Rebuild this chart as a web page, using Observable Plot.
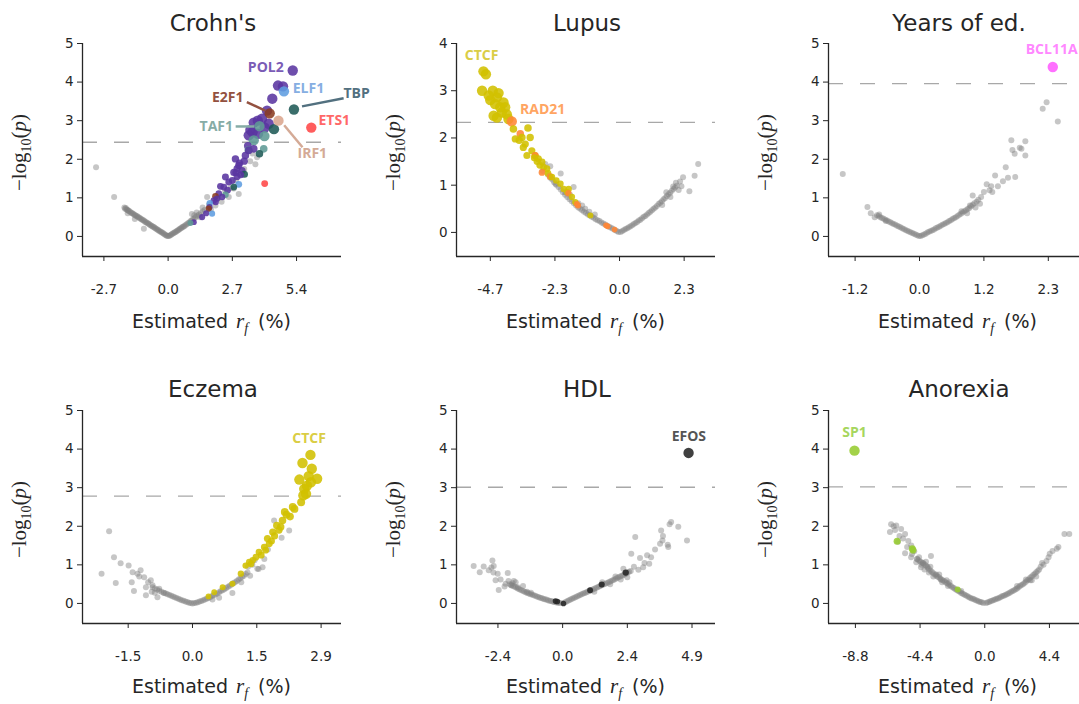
<!DOCTYPE html>
<html>
<head>
<meta charset="utf-8">
<script src="https://cdn.jsdelivr.net/npm/d3@7"></script>
<script src="https://cdn.jsdelivr.net/npm/@observablehq/plot@0.6"></script>
<style>
html,body{margin:0;padding:0;background:#fff;}
#root{position:relative;width:1079px;height:704px;overflow:hidden;background:#fff;}
</style>
</head>
<body>
<div id="root"></div>
<script>
// ---------------- DATA ----------------
const titles = ["Crohn's", "Lupus", "Years of ed.", "Eczema", "HDL", "Anorexia"];
const thresholds = [2.44, 2.33, 3.96, 2.78, 3.01, 3.02];

const crohnsTicks = [-2.7, 0, 2.7, 5.4];
const crohnsTickLabels = ["-2.7", "0.0", "2.7", "5.4"];
const lupusTicks = [-4.7, -2.35, 0, 2.35];
const lupusTickLabels = ["-4.7", "-2.3", "0.0", "2.3"];
const yearsTicks = [-1.15, 0, 1.15, 2.3];
const yearsTickLabels = ["-1.2", "0.0", "1.2", "2.3"];
const eczemaTicks = [-1.45, 0, 1.45, 2.9];
const eczemaTickLabels = ["-1.5", "0.0", "1.5", "2.9"];
const hdlTicks = [-2.45, 0, 2.45, 4.9];
const hdlTickLabels = ["-2.4", "0.0", "2.4", "4.9"];
const anorexiaTicks = [-8.8, -4.4, 0, 4.4];
const anorexiaTickLabels = ["-8.8", "-4.4", "0.0", "4.4"];

// background (non-highlighted) points: [r_f, -log10 p]
const crohnsGray = [
 [-3.03,1.79],[-2.27,1.02],[-1.02,0.20],[-1.70,0.60],[-1.40,0.45],
 [-1.84,0.75],[-1.81,0.72],[-1.78,0.74],[-1.75,0.70],[-1.72,0.69],[-1.69,0.68],[-1.66,0.66],[-1.62,0.65],[-1.58,0.63],[-1.54,0.61],[-1.50,0.60],[-1.46,0.58],[-1.42,0.56],[-1.38,0.55],[-1.34,0.53],[-1.30,0.52],[-1.26,0.50],[-1.22,0.49],[-1.18,0.47],[-1.14,0.45],[-1.10,0.44],[-1.06,0.42],[-1.02,0.41],[-0.98,0.39],[-0.94,0.37],[-0.90,0.36],[-0.86,0.34],[-0.82,0.33],[-0.78,0.31],[-0.74,0.29],[-0.70,0.28],[-0.66,0.26],[-0.62,0.25],[-0.58,0.23],[-0.54,0.21],[-0.50,0.20],[-0.46,0.18],[-0.42,0.17],[-0.38,0.15],[-0.34,0.13],[-0.30,0.12],[-0.26,0.10],[-0.22,0.09],[-0.18,0.07],[-0.14,0.05],[-0.10,0.04],[-0.06,0.02],[-0.02,0.01],
 [0.02,0.01],[0.06,0.02],[0.10,0.04],[0.14,0.05],[0.18,0.07],[0.22,0.08],[0.26,0.10],[0.30,0.11],[0.34,0.13],[0.38,0.15],[0.42,0.16],[0.46,0.18],[0.50,0.20],[0.54,0.21],[0.58,0.23],[0.62,0.25],[0.66,0.26],[0.70,0.28],[0.75,0.30],[0.80,0.32],[0.85,0.35],[0.90,0.37],[0.95,0.40],[1.00,0.42],[1.06,0.45],[1.12,0.48],[1.18,0.51],[1.24,0.54],[1.30,0.57],[1.38,0.61],[1.46,0.65],[1.54,0.69],
 [1.00,0.58],[1.10,0.55],[1.20,0.62],[1.35,0.50],[1.45,0.75],[1.64,1.02],[1.72,0.82],[1.80,0.70],[1.99,0.80],[2.10,0.98],[2.25,0.90],[2.40,1.18],[2.55,1.02],[2.62,1.25],[2.76,1.24],[2.85,1.45],[2.97,1.10],[3.05,1.62],[3.20,1.75],[3.45,1.95],[3.67,1.87],[3.74,2.05],[3.55,2.15]
];
const lupusGray = [
 [-2.60,1.22],[-2.52,1.16],[-2.45,1.12],[-2.38,1.06],[-2.30,1.01],[-2.22,0.96],[-2.14,0.91],[-2.06,0.85],[-1.98,0.80],[-1.90,0.75],[-1.82,0.70],[-1.74,0.66],[-1.66,0.62],[-1.58,0.57],[-1.50,0.53],[-1.43,0.50],[-1.36,0.47],[-1.29,0.44],[-1.22,0.41],[-1.15,0.38],[-1.08,0.36],[-1.01,0.33],[-0.94,0.31],[-0.87,0.28],[-0.80,0.26],[-0.73,0.24],[-0.66,0.21],[-0.59,0.19],[-0.52,0.17],[-0.45,0.14],[-0.38,0.12],[-0.31,0.10],[-0.24,0.08],[-0.17,0.05],[-0.10,0.03],[-0.04,0.01],
 [-2.52,1.40],[-2.14,1.25],[-2.33,1.03],[-1.67,0.96],[-1.36,0.57],[-1.25,0.50],[-1.97,0.85],[-2.80,1.30],[-2.70,1.45],[-1.80,0.80],[-1.50,0.62],[-1.10,0.44],[-0.90,0.38],
 [0.04,0.01],[0.10,0.03],[0.16,0.05],[0.22,0.07],[0.28,0.09],[0.34,0.11],[0.40,0.13],[0.46,0.15],[0.52,0.18],[0.58,0.20],[0.64,0.22],[0.70,0.25],[0.76,0.27],[0.82,0.30],[0.88,0.33],[0.94,0.35],[1.00,0.38],[1.06,0.41],[1.12,0.44],[1.18,0.47],[1.24,0.50],[1.30,0.53],[1.36,0.56],[1.42,0.60],[1.48,0.63],[1.54,0.66],[1.60,0.70],[1.66,0.73],[1.72,0.77],[1.78,0.81],[1.84,0.84],[1.90,0.88],[1.96,0.92],[2.02,0.95],[2.08,0.99],
 [2.31,1.17],[2.73,1.20],[2.86,1.45],[2.54,0.87],[2.20,1.08],[2.15,0.90],[2.05,1.05],[1.85,0.75],[1.70,0.85],[1.55,0.58],[2.25,0.98],[1.95,0.97]
];
const yearsGray = [
 [-1.37,1.62],[-0.93,0.76],[-0.87,0.60],[-0.72,0.57],[-0.80,0.50],[-0.60,0.40],
 [-0.76,0.55],[-0.73,0.53],[-0.70,0.50],[-0.67,0.48],[-0.64,0.46],[-0.61,0.43],[-0.58,0.41],[-0.55,0.39],[-0.52,0.37],[-0.49,0.34],[-0.46,0.32],[-0.43,0.30],[-0.40,0.28],[-0.37,0.26],[-0.34,0.24],[-0.31,0.21],[-0.28,0.19],[-0.25,0.17],[-0.22,0.15],[-0.19,0.13],[-0.16,0.11],[-0.13,0.09],[-0.10,0.07],[-0.07,0.05],[-0.04,0.03],[-0.01,0.01],
 [0.02,0.01],[0.05,0.03],[0.08,0.05],[0.11,0.07],[0.14,0.10],[0.17,0.12],[0.20,0.14],[0.23,0.16],[0.26,0.18],[0.29,0.21],[0.32,0.23],[0.35,0.25],[0.38,0.28],[0.41,0.30],[0.44,0.32],[0.47,0.35],[0.50,0.37],[0.53,0.40],[0.56,0.42],[0.59,0.45],[0.62,0.48],[0.65,0.50],[0.68,0.53],[0.71,0.56],[0.74,0.59],[0.77,0.62],[0.80,0.65],[0.83,0.68],[0.86,0.71],[0.89,0.74],[0.92,0.78],[0.95,0.82],[0.98,0.86],
 [0.95,1.06],[1.00,0.75],[1.05,0.95],[1.10,1.02],[1.15,1.15],[1.20,1.35],[1.28,1.30],[1.35,1.58],[1.40,1.30],[1.49,1.43],[1.54,1.79],[1.58,1.52],[1.71,1.54],[1.64,2.49],[1.66,2.24],[1.70,2.14],[1.79,2.30],[1.82,2.27],[1.89,2.47],[1.89,2.10],[2.20,3.31],[2.27,3.48],[2.47,2.98],[0.85,0.60],[0.75,0.65],[1.08,0.85],[1.25,1.20],[1.30,1.15],[0.90,0.80],[1.02,0.90]
];
const eczemaGray = [
 [-1.88,1.87],[-1.77,1.20],[-2.05,0.77],[-1.73,0.53],[-1.62,1.04],[-1.44,0.98],[-1.17,0.86],[-1.35,0.81],[-1.37,0.55],[-1.32,0.32],[-1.05,0.21],[-1.24,0.77],[-1.09,0.68],[-0.94,0.60],[-0.90,0.47],[-0.75,0.38],[-0.64,0.27],[-0.79,0.16],[-1.05,0.42],[-1.20,0.70],[-1.00,0.55],[-0.85,0.28],[-0.92,0.30],
 [-0.90,0.42],[-0.85,0.39],[-0.80,0.36],[-0.75,0.33],[-0.70,0.30],[-0.65,0.28],[-0.60,0.26],[-0.56,0.24],[-0.52,0.22],[-0.48,0.20],[-0.44,0.18],[-0.40,0.16],[-0.36,0.14],[-0.32,0.12],[-0.28,0.10],[-0.24,0.08],[-0.20,0.07],[-0.16,0.05],[-0.12,0.04],[-0.08,0.02],[-0.04,0.01],[0.00,0.00],
 [0.04,0.01],[0.08,0.02],[0.12,0.03],[0.16,0.05],[0.20,0.06],[0.24,0.08],[0.28,0.10],[0.32,0.12],[0.36,0.14],[0.40,0.16],[0.44,0.19],[0.48,0.21],[0.52,0.24],[0.56,0.26],[0.60,0.29],[0.64,0.32],[0.68,0.34],[0.72,0.37],[0.76,0.40],[0.80,0.43],[0.84,0.46],[0.88,0.49],[0.92,0.52],[0.96,0.55],[1.00,0.58],[1.04,0.62],[1.08,0.65],[1.12,0.69],[1.16,0.72],[1.20,0.76],[1.24,0.80],
 [0.90,0.27],[0.60,0.15],[0.45,0.10],[1.84,2.15],[2.18,1.89],[2.01,1.70],[1.58,0.94],[1.46,0.90],[1.49,0.89],[1.30,0.72],[1.10,0.55],[1.35,1.00],[1.40,1.12],[1.62,1.15],[1.70,1.40],[1.25,0.95]
];
const hdlGray = [
 [-3.37,0.97],[-3.14,0.81],[-2.99,0.96],[-2.66,1.11],[-2.61,0.97],[-2.46,0.77],[-2.54,0.60],[-2.42,0.35],[-2.08,0.79],[-2.16,0.51],[-1.78,0.55],[-2.80,0.86],[-2.70,0.93],[-2.62,0.80],[-2.35,0.62],[-2.20,0.44],[-1.95,0.47],[-1.90,0.52],[-1.85,0.58],[-1.70,0.42],[-1.50,0.45],[-1.35,0.30],[-1.20,0.28],[-2.05,0.58],
 [-2.00,0.50],[-1.94,0.47],[-1.88,0.45],[-1.82,0.43],[-1.76,0.41],[-1.70,0.39],[-1.64,0.37],[-1.58,0.35],[-1.52,0.33],[-1.46,0.31],[-1.40,0.29],[-1.34,0.27],[-1.28,0.26],[-1.22,0.24],[-1.16,0.23],[-1.10,0.21],[-1.04,0.20],[-0.98,0.18],[-0.92,0.17],[-0.86,0.15],[-0.80,0.14],[-0.74,0.12],[-0.68,0.11],[-0.62,0.10],[-0.56,0.08],[-0.50,0.07],[-0.44,0.06],[-0.38,0.05],[-0.32,0.04],[-0.26,0.03],[-0.20,0.02],[-0.14,0.02],[-0.08,0.01],
 [0.06,0.02],[0.12,0.04],[0.18,0.06],[0.24,0.08],[0.30,0.10],[0.36,0.12],[0.42,0.14],[0.48,0.16],[0.54,0.18],[0.60,0.20],[0.66,0.22],[0.72,0.24],[0.78,0.26],[0.84,0.27],[0.90,0.29],[0.96,0.31],[1.02,0.33],[1.08,0.34],[1.14,0.36],[1.20,0.38],[1.26,0.40],[1.32,0.42],[1.38,0.44],[1.44,0.46],[1.50,0.48],[1.56,0.50],[1.62,0.51],[1.68,0.53],[1.74,0.55],[1.80,0.57],[1.86,0.59],[1.92,0.61],[1.98,0.63],[2.04,0.65],[2.10,0.67],[2.16,0.69],[2.22,0.71],[2.28,0.73],[2.34,0.75],[2.40,0.77],[2.46,0.80],[2.52,0.82],[2.58,0.84],
 [2.75,1.72],[2.60,1.29],[2.93,1.18],[3.35,1.20],[3.28,1.03],[3.05,0.94],[2.87,0.87],[3.73,1.89],[3.78,1.63],[3.69,1.55],[4.00,1.46],[3.98,1.52],[4.11,2.11],[4.38,1.99],[4.71,1.63],[4.05,2.05],[3.80,1.75],[2.30,0.90],[2.00,0.70],[1.50,0.55],[2.45,0.68],[2.70,0.95],[3.20,1.25],[3.50,1.40],[3.10,1.05],[1.20,0.30],[1.80,0.50],[2.20,0.62]
];
const anorexiaGray = [
 [-6.37,2.05],[-6.20,2.00],[-6.02,2.02],[-6.45,1.85],[-5.69,1.93],[-5.42,1.80],[-5.56,1.68],[-5.28,1.46],[-5.42,1.30],[-5.01,1.20],[-4.47,1.20],[-3.66,1.23],[-4.66,1.07],[-4.34,0.94],[-5.80,1.75],[-5.90,1.60],[-5.00,1.50],[-4.80,1.35],[-4.20,1.05],[-3.90,0.95],[-3.80,0.80],[-3.30,0.75],[-3.00,0.62],[-2.60,0.60],[-2.50,0.45],[-6.10,1.90],[-5.20,1.62],[-4.95,1.28],[-4.60,1.15],[-4.10,0.88],
 [-4.60,1.15],[-4.50,1.12],[-4.40,1.09],[-4.30,1.07],[-4.20,1.04],[-4.10,1.01],[-4.00,0.98],[-3.90,0.93],[-3.80,0.89],[-3.70,0.85],[-3.60,0.82],[-3.50,0.78],[-3.40,0.75],[-3.30,0.72],[-3.20,0.69],[-3.10,0.67],[-3.00,0.64],[-2.90,0.61],[-2.80,0.59],[-2.70,0.56],[-2.60,0.53],[-2.50,0.51],[-2.40,0.48],[-2.30,0.45],[-2.20,0.42],[-2.10,0.40],[-2.00,0.37],[-1.90,0.35],[-1.80,0.32],[-1.70,0.30],[-1.60,0.27],[-1.50,0.25],[-1.40,0.23],[-1.30,0.21],[-1.20,0.19],[-1.10,0.17],[-1.00,0.15],[-0.90,0.13],[-0.80,0.12],[-0.70,0.10],[-0.60,0.08],[-0.50,0.07],[-0.40,0.05],[-0.30,0.04],[-0.20,0.03],[-0.10,0.01],
 [0.10,0.01],[0.20,0.03],[0.30,0.04],[0.40,0.06],[0.50,0.07],[0.60,0.09],[0.70,0.10],[0.80,0.12],[0.90,0.13],[1.00,0.15],[1.10,0.17],[1.20,0.19],[1.30,0.20],[1.40,0.22],[1.50,0.24],[1.60,0.26],[1.70,0.28],[1.80,0.30],[1.90,0.32],[2.00,0.34],[2.10,0.37],[2.20,0.39],[2.30,0.42],[2.40,0.45],[2.50,0.48],[2.60,0.50],[2.70,0.53],[2.80,0.56],[2.90,0.60],[3.00,0.63],[3.10,0.67],[3.20,0.70],[3.30,0.74],[3.40,0.77],[3.50,0.81],[3.60,0.84],[3.70,0.88],
 [4.34,1.20],[4.42,1.29],[4.61,1.36],[5.01,1.46],[4.90,1.42],[5.42,1.80],[5.75,1.80],[4.00,1.00],[3.90,1.05],[4.20,1.10],[3.80,0.95],[3.50,0.70],[3.20,0.60],
 [-4.30,1.00],[-3.70,0.95],[-3.10,0.75],[-2.40,0.55],[-3.50,0.70],[-4.00,1.08],[-2.90,0.55],[-1.60,0.32],[2.20,0.45],[2.80,0.62],[3.10,0.60]
];

// highlighted points: [r_f, -log10 p, factor]
const crohnsHi = [
 [5.24,4.30,"POL2"],[4.62,3.91,"POL2"],[4.83,3.89,"POL2"],[4.38,3.57,"POL2"],[4.16,3.26,"POL2"],[3.95,3.05,"POL2"],[3.77,3.00,"POL2"],[3.60,2.95,"POL2"],[4.23,2.92,"POL2"],[4.06,2.82,"POL2"],[3.46,2.76,"POL2"],[3.55,2.70,"POL2"],[3.78,2.66,"POL2"],[3.39,2.62,"POL2"],
 [3.35,2.35,"POL2"],[3.60,2.27,"POL2"],[3.39,2.23,"POL2"],[3.25,2.10,"POL2"],[2.83,2.01,"POL2"],[3.20,1.95,"POL2"],[3.00,1.90,"POL2"],[2.97,1.84,"POL2"],[2.90,1.76,"POL2"],[3.11,1.71,"POL2"],[2.76,1.66,"POL2"],[2.85,1.65,"POL2"],[3.05,1.60,"POL2"],[2.90,1.55,"POL2"],[2.41,1.54,"POL2"],[2.70,1.45,"POL2"],[2.55,1.41,"POL2"],[2.20,1.30,"POL2"],[2.34,1.28,"POL2"],[2.50,1.20,"POL2"],[2.13,1.11,"POL2"],[2.27,1.02,"POL2"],[2.05,0.98,"POL2"],[1.92,0.93,"POL2"],[2.00,0.89,"POL2"],[1.74,0.76,"POL2"],[1.60,0.60,"POL2"],[1.43,0.50,"POL2"],[1.08,0.37,"POL2"],
 [4.87,3.76,"ELF1"],[2.97,1.35,"ELF1"],[1.75,0.86,"ELF1"],[1.85,0.59,"ELF1"],
 [5.29,3.29,"TBP"],[4.45,2.78,"TBP"],[3.84,2.14,"TBP"],[3.21,1.61,"TBP"],[2.76,1.28,"TBP"],
 [3.84,2.86,"TAF1"],[4.05,2.60,"TAF1"],[3.60,2.49,"TAF1"],[3.37,2.24,"TAF1"],[4.02,2.27,"TAF1"],[2.41,1.08,"TAF1"],[0.94,0.35,"TAF1"],
 [4.27,3.19,"E2F1"],[1.99,1.04,"E2F1"],[1.71,0.72,"E2F1"],
 [4.64,3.00,"IRF1"],
 [6.02,2.82,"ETS1"],[4.06,1.37,"ETS1"]
];
const lupusHi = [
 [-4.95,3.41,"CTCF"],[-4.86,3.35,"CTCF"],[-5.00,3.00,"CTCF"],[-4.61,3.00,"CTCF"],[-4.76,2.90,"CTCF"],[-4.46,2.86,"CTCF"],[-4.40,2.95,"CTCF"],[-4.70,2.80,"CTCF"],[-4.22,2.75,"CTCF"],[-4.53,2.72,"CTCF"],[-4.34,2.65,"CTCF"],[-4.16,2.65,"CTCF"],[-4.28,2.54,"CTCF"],[-4.10,2.50,"CTCF"],[-4.58,2.47,"CTCF"],[-4.46,2.43,"CTCF"],[-4.04,2.40,"CTCF"],
 [-3.86,2.19,"CTCF"],[-3.33,2.21,"CTCF"],[-3.79,1.98,"CTCF"],[-3.55,2.01,"CTCF"],[-3.25,2.01,"CTCF"],[-3.65,1.95,"CTCF"],[-3.43,1.87,"CTCF"],[-3.50,1.80,"CTCF"],[-3.19,1.73,"CTCF"],[-3.37,1.63,"CTCF"],[-3.07,1.63,"CTCF"],[-3.10,1.58,"CTCF"],[-2.95,1.56,"CTCF"],[-3.00,1.50,"CTCF"],[-2.82,1.49,"CTCF"],[-2.90,1.42,"CTCF"],[-2.76,1.38,"CTCF"],[-2.64,1.35,"CTCF"],[-2.60,1.25,"CTCF"],[-2.46,1.17,"CTCF"],[-2.30,1.10,"CTCF"],[-2.15,1.03,"CTCF"],[-2.03,0.92,"CTCF"],[-1.85,0.92,"CTCF"],[-1.90,0.85,"CTCF"],[-1.73,0.75,"CTCF"],[-1.61,0.64,"CTCF"],[-1.06,0.36,"CTCF"],
 [-3.92,2.35,"RAD21"],[-3.61,2.09,"RAD21"],[-3.07,1.63,"RAD21"],[-2.82,1.27,"RAD21"],[-2.52,1.18,"RAD21"],[-1.86,0.83,"RAD21"],[-1.55,0.60,"RAD21"],[-1.51,0.57,"RAD21"],[-0.49,0.15,"RAD21"],[-0.43,0.13,"RAD21"],[-0.18,0.06,"RAD21"]
];
const yearsHi = [[2.38,4.39,"BCL11A"]];
const eczemaHi = [
 [2.66,3.85,"CTCF"],[2.48,3.64,"CTCF"],[2.69,3.49,"CTCF"],[2.62,3.30,"CTCF"],[2.41,3.21,"CTCF"],[2.81,3.23,"CTCF"],[2.67,3.14,"CTCF"],[2.58,3.05,"CTCF"],[2.52,2.97,"CTCF"],[2.56,2.84,"CTCF"],[2.50,2.80,"CTCF"],
 [2.45,2.62,"CTCF"],[2.26,2.50,"CTCF"],[2.30,2.45,"CTCF"],[2.08,2.37,"CTCF"],[2.12,2.30,"CTCF"],[2.20,2.25,"CTCF"],[2.03,2.15,"CTCF"],[1.90,2.02,"CTCF"],[1.99,1.98,"CTCF"],[1.95,1.90,"CTCF"],[1.81,1.85,"CTCF"],[1.85,1.75,"CTCF"],[1.69,1.68,"CTCF"],[1.78,1.62,"CTCF"],[1.73,1.55,"CTCF"],[1.62,1.46,"CTCF"],[1.65,1.38,"CTCF"],[1.50,1.33,"CTCF"],[1.55,1.25,"CTCF"],[1.43,1.20,"CTCF"],[1.36,1.12,"CTCF"],[1.28,1.07,"CTCF"],[1.32,1.02,"CTCF"],[1.20,0.98,"CTCF"],[1.09,0.77,"CTCF"],[0.90,0.51,"CTCF"],[0.68,0.42,"CTCF"],[0.49,0.29,"CTCF"],[0.36,0.18,"CTCF"]
];
const hdlHi = [[4.77,3.90,"EFOS"],[-0.27,0.06,"EFOS"],[-0.20,0.05,"EFOS"],[0.03,0.00,"EFOS"],[1.04,0.34,"EFOS"],[1.48,0.49,"EFOS"],[2.39,0.80,"EFOS"]];
const anorexiaHi = [[-8.86,3.96,"SP1"],[-5.96,1.61,"SP1"],[-4.93,1.42,"SP1"],[-4.88,1.38,"SP1"],[-1.84,0.36,"SP1"]];

// annotation labels: [text, r_f, -log10 p, anchor]
const crohnsLabels = [["POL2",4.86,4.39,"end"],["ELF1",5.24,3.83,"start"],["TBP",7.37,3.70,"start"],["E2F1",3.17,3.61,"end"],["TAF1",2.73,2.85,"end"],["ETS1",6.32,3.00,"start"],["IRF1",5.44,2.15,"start"]];
const lupusLabels = [["CTCF",-5.63,3.75,"start"],["RAD21",-3.62,2.60,"start"]];
const yearsLabels = [["BCL11A",2.36,4.85,"middle"]];
const eczemaLabels = [["CTCF",2.63,4.28,"middle"]];
const hdlLabels = [["EFOS",4.78,4.32,"middle"]];
const anorexiaLabels = [["SP1",-8.86,4.42,"middle"]];

// leader lines: [x1, y1, x2, y2, factor]
const crohnsLeaders = [[3.31,3.48,4.08,3.26,"E2F1"],[2.84,2.85,3.62,2.85,"TAF1"],[5.63,3.37,7.38,3.58,"TBP"],[4.88,2.88,5.65,2.31,"IRF1"]];

// ---------------- STYLE ----------------
const tfColors = {
  POL2:{point:"#5a36a0",label:"#7b5cb6"}, ELF1:{point:"#5f9de0",label:"#86aee2"},
  TBP:{point:"#1f5a56",label:"#52707f"}, TAF1:{point:"#5e9a95",label:"#86aca6"},
  E2F1:{point:"#8a3b20",label:"#935140"}, IRF1:{point:"#dba58d",label:"#d4aa96"},
  ETS1:{point:"#ff4747",label:"#ff6868"}, CTCF:{point:"#d2c000",label:"#dacd45"},
  RAD21:{point:"#ff8636",label:"#ffa562"}, BCL11A:{point:"#ff5cff",label:"#ff88ff"},
  EFOS:{point:"#262626",label:"#555555"}, SP1:{point:"#96cc30",label:"#a6d65e"}
};

const panels = [
 {gray:crohnsGray, hi:crohnsHi, labels:crohnsLabels, leaders:crohnsLeaders, ticks:crohnsTicks, tickLabels:crohnsTickLabels, xd:[-3.60,7.29], yd:[-0.52,5], yt:[0,1,2,3,4,5], ax:82, top:43},
 {gray:lupusGray, hi:lupusHi, labels:lupusLabels, leaders:[], ticks:lupusTicks, tickLabels:lupusTickLabels, xd:[-5.93,3.49], yd:[-0.51,4], yt:[0,1,2,3,4], ax:456, top:43},
 {gray:yearsGray, hi:yearsHi, labels:yearsLabels, leaders:[], ticks:yearsTicks, tickLabels:yearsTickLabels, xd:[-1.625,3.0], yd:[-0.52,5], yt:[0,1,2,3,4,5], ax:828, top:43},
 {gray:eczemaGray, hi:eczemaHi, labels:eczemaLabels, leaders:[], ticks:eczemaTicks, tickLabels:eczemaTickLabels, xd:[-2.48,3.36], yd:[-0.52,5], yt:[0,1,2,3,4,5], ax:82, top:410},
 {gray:hdlGray, hi:hdlHi, labels:hdlLabels, leaders:[], ticks:hdlTicks, tickLabels:hdlTickLabels, xd:[-4.02,5.79], yd:[-0.52,5], yt:[0,1,2,3,4,5], ax:456, top:410},
 {gray:anorexiaGray, hi:anorexiaHi, labels:anorexiaLabels, leaders:[], ticks:anorexiaTicks, tickLabels:anorexiaTickLabels, xd:[-10.63,6.99], yd:[-0.52,5], yt:[0,1,2,3,4,5], ax:828, top:410}
];

const root = document.getElementById("root");
const mL = 40, mR = 45, mT = 12, mB = 50, FW = 259, FH = 213;
const ink = "#262626";

panels.forEach((p, i) => {
  const thr = thresholds[i];
  const tickMap = new Map(p.ticks.map((t, k) => [t, p.tickLabels[k]]));
  const labelMark = (anchor) => Plot.text(p.labels.filter(d => d[3] === anchor), {
    x: d => d[1], y: d => d[2], text: d => d[0], fill: d => tfColors[d[0]].label,
    textAnchor: anchor, fontWeight: "bold", fontSize: 14, fontFamily: "'Open Sans', 'Noto Sans', sans-serif"
  });
  const svg = Plot.plot({
    width: mL + FW + mR, height: mT + FH + mB,
    marginLeft: mL, marginRight: mR, marginTop: mT, marginBottom: mB,
    style: {fontFamily: "DejaVu Sans", fontSize: "13.5px", color: ink, background: "transparent", overflow: "visible"},
    x: {domain: p.xd, ticks: p.ticks, tickFormat: d => tickMap.get(d), tickSize: 5, tickPadding: 23, label: null},
    y: {domain: p.yd, ticks: p.yt, tickFormat: d => String(d), tickSize: 5, tickPadding: 4, label: null},
    r: {type: "identity"},
    marks: [
      Plot.ruleY([thr], {stroke: "#a8a8a8", strokeWidth: 1.4, strokeDasharray: "15,17"}),
      Plot.dot(p.gray, {x: d => d[0], y: d => d[1], r: 3.0, fill: "#808080", fillOpacity: 0.45}),
      Plot.dot(p.hi, {x: d => d[0], y: d => d[1], r: d => d[1] >= thr ? 5.2 : 2.8 + 0.45 * d[1], fill: d => tfColors[d[2]].point, fillOpacity: 0.88}),
      Plot.link(p.leaders, {x1: d => d[0], y1: d => d[1], x2: d => d[2], y2: d => d[3], stroke: d => tfColors[d[4]].label, strokeWidth: 2.5}),
      labelMark("start"), labelMark("middle"), labelMark("end"),
      Plot.ruleX([p.xd[0]], {stroke: ink, strokeWidth: 1.3}),
      Plot.ruleY([p.yd[0]], {stroke: ink, strokeWidth: 1.3})
    ]
  });
  // make sure tick labels use the chart font at the intended size
  d3.select(svg).selectAll('g[aria-label*="axis"]').attr("font-size", 13.5).attr("font-family", "DejaVu Sans");
  svg.style.position = "absolute";
  svg.style.left = (p.ax - mL) + "px";
  svg.style.top = (p.top - mT) + "px";
  root.appendChild(svg);
});

// titles and axis labels (real text)
const ov = d3.select(root).append("svg")
  .attr("width", 1079).attr("height", 704)
  .style("position", "absolute").style("left", "0px").style("top", "0px")
  .style("pointer-events", "none");

panels.forEach((p, i) => {
  const cx = p.ax + FW / 2;
  const topRow = p.top < 200;
  ov.append("text").attr("x", cx + 1.5).attr("y", topRow ? 31 : 397)
    .attr("text-anchor", "middle").attr("fill", ink)
    .attr("font-family", "DejaVu Sans").attr("font-size", 23)
    .text(titles[i]);

  const xl = ov.append("text").attr("x", cx).attr("y", topRow ? 328 : 693)
    .attr("text-anchor", "middle").attr("fill", ink)
    .attr("font-family", "DejaVu Sans").attr("font-size", 19);
  xl.append("tspan").text("Estimated");
  xl.append("tspan").attr("dx", 8).attr("font-family", "Liberation Serif").attr("font-style", "italic").attr("font-size", 21).text("r");
  xl.append("tspan").attr("dy", 5).attr("font-family", "Liberation Serif").attr("font-style", "italic").attr("font-size", 14).text("f");
  xl.append("tspan").attr("dy", -5).attr("dx", 10).text("(%)");

  const ly = p.top + FH / 2 + 3;
  const bx = p.ax - 56;
  const yl = ov.append("text").attr("transform", `translate(${bx},${ly}) rotate(-90)`)
    .attr("text-anchor", "middle").attr("fill", ink)
    .attr("font-family", "Liberation Serif").attr("font-size", 21);
  yl.append("tspan").text("\u2212log");
  yl.append("tspan").attr("dy", 5).attr("font-size", 14).text("10");
  yl.append("tspan").attr("dy", -5).text("(");
  yl.append("tspan").attr("font-style", "italic").text("p");
  yl.append("tspan").text(")");
});
</script>
</body>
</html>
